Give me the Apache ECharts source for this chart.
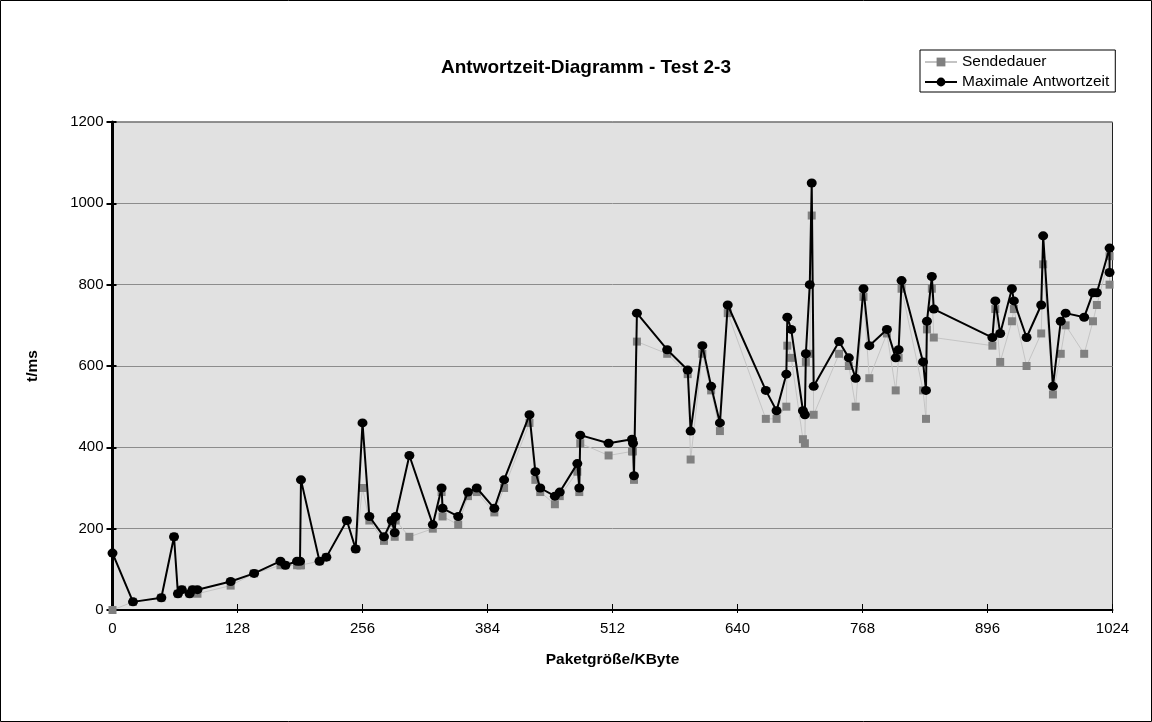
<!DOCTYPE html>
<html>
<head>
<meta charset="utf-8">
<script src="https://cdn.jsdelivr.net/npm/echarts@6/dist/echarts.min.js"></script>
<style>
html,body{margin:0;padding:0;background:#fff;}
#chart{width:1152px;height:722px;}
</style>
</head>
<body>
<div id="chart"></div>
<script>
const titleText = 'Antwortzeit-Diagramm - Test 2-3';
const seriesNames = ['Sendedauer', 'Maximale Antwortzeit'];
const xTicks = [0, 128, 256, 384, 512, 640, 768, 896, 1024];
const yTicks = [0, 200, 400, 600, 800, 1000, 1200];

const packetSize = [0, 21, 50, 63, 67, 71, 79, 82, 87, 121, 145, 172, 177, 189, 192, 193, 212, 219, 240, 249,
  256, 263, 278, 286, 289, 290, 304, 328, 337, 338, 354, 364, 373, 391, 401, 427, 433, 438, 453, 458,
  476, 478, 479, 508, 532, 533, 534, 537, 568, 589, 592, 604, 613, 622, 630, 669, 680, 690, 691, 695,
  707, 709, 710, 714, 716, 718, 744, 754, 761, 769, 775, 793, 802, 805, 808, 830, 833, 834, 839, 841,
  901, 904, 909, 921, 923, 936, 951, 953, 963, 971, 976, 995, 1004, 1008, 1021, 1021];

const sendedauer = [0, 20, 30, 180, 40, 50, 40, 50, 40, 60, 90, 110, 110, 110, 110, 110, 120, 130, 220, 150,
  300, 220, 170, 215, 180, 220, 180, 200, 290, 230, 210, 280, 290, 240, 300, 460, 320, 290, 260, 280,
  340, 290, 410, 380, 390, 390, 320, 660, 630, 580, 370, 630, 540, 440, 730, 470, 470, 500, 650, 620,
  420, 410, 610, 630, 970, 480, 630, 600, 500, 770, 570, 680, 540, 620, 790, 540, 470, 690, 790, 670,
  650, 740, 610, 710, 740, 600, 680, 850, 530, 630, 700, 630, 710, 750, 870, 800];

const maxAntwortzeit = [140, 20, 30, 180, 40, 50, 40, 50, 50, 70, 90, 120, 110, 120, 120, 320, 120, 130, 220, 150,
  460, 230, 180, 220, 190, 230, 380, 210, 300, 250, 230, 290, 300, 250, 320, 480, 340, 300, 280, 290,
  360, 300, 430, 410, 420, 410, 330, 730, 640, 590, 440, 650, 550, 460, 750, 540, 490, 580, 720, 690,
  490, 480, 630, 800, 1050, 550, 660, 620, 570, 790, 650, 690, 620, 640, 810, 610, 540, 710, 820, 740,
  670, 760, 680, 790, 760, 670, 750, 920, 550, 710, 730, 720, 780, 780, 890, 830];

const FONT = '"Liberation Sans", Arial, sans-serif';
const pairs = arr => packetSize.map((x, i) => [x, arr[i]]);
const plain = v => String(v);

const chart = echarts.init(document.getElementById('chart'), null, {renderer: 'canvas'});

const xBase = {
  type: 'value', min: xTicks[0], max: xTicks[xTicks.length - 1], interval: 128,
  position: 'bottom'
};
const yBase = {
  type: 'value', min: yTicks[0], max: yTicks[yTicks.length - 1], interval: 200,
  position: 'left'
};

chart.setOption({
  animation: false,
  backgroundColor: '#ffffff',
  textStyle: {fontFamily: FONT},
  title: {
    text: titleText, left: 581, top: 53, textAlign: 'center',
    textStyle: {fontFamily: FONT, fontSize: 19, fontWeight: 'bold', color: '#000'}
  },
  graphic: [{
    type: 'rect', shape: {x: 0.5, y: 0.5, width: 1151, height: 721},
    style: {fill: 'none', stroke: '#000', lineWidth: 1}, silent: true, z: 100
  }],
  legend: {
    orient: 'vertical', left: 920, top: 50,
    backgroundColor: '#fff', borderColor: '#000', borderWidth: 1,
    padding: [3, 6, 1, 4], itemGap: 2, itemWidth: 32, itemHeight: 11,
    textStyle: {fontFamily: FONT, fontSize: 15.5, color: '#000', lineHeight: 18},
    data: seriesNames
  },
  grid: {
    left: 112.5, right: 39.5, top: 122, bottom: 112,
    show: true, backgroundColor: '#e1e1e1', borderColor: '#222', borderWidth: 1
  },
  xAxis: [
    Object.assign({}, xBase, {
      name: 'Paketgröße/KByte', nameLocation: 'middle', nameGap: 42,
      nameTextStyle: {fontFamily: FONT, fontSize: 15.5, fontWeight: 'bold', color: '#000'},
      axisLine: {show: true, onZero: false, lineStyle: {color: '#000', width: 2}},
      axisTick: {show: true, inside: false, length: 3, lineStyle: {color: '#000', width: 1}},
      axisLabel: {fontFamily: FONT, fontSize: 15, color: '#000', margin: 11, formatter: plain},
      splitLine: {show: false}
    }),
    Object.assign({}, xBase, {
      axisLine: {show: false},
      axisTick: {show: true, inside: true, length: 6, lineStyle: {color: '#000', width: 1}},
      axisLabel: {show: false}, splitLine: {show: false}
    })
  ],
  yAxis: [
    Object.assign({}, yBase, {
      name: 't/ms', nameLocation: 'middle', nameGap: 72, nameRotate: 90,
      nameTextStyle: {fontFamily: FONT, fontSize: 15.5, fontWeight: 'bold', color: '#000'},
      axisLine: {show: true, onZero: false, lineStyle: {color: '#000', width: 3}},
      axisTick: {show: true, inside: false, length: 6, lineStyle: {color: '#000', width: 2}},
      axisLabel: {fontFamily: FONT, fontSize: 15, color: '#000', margin: 9, formatter: plain},
      splitLine: {show: true, lineStyle: {color: '#8c8c8c', width: 1}}
    }),
    Object.assign({}, yBase, {
      axisLine: {show: false},
      axisTick: {show: true, inside: true, length: 4, lineStyle: {color: '#000', width: 2}},
      axisLabel: {show: false}, splitLine: {show: false}
    })
  ],
  series: [
    {
      name: seriesNames[0], type: 'line', xAxisIndex: 0, yAxisIndex: 0,
      data: pairs(sendedauer),
      symbol: 'rect', symbolSize: 8, showAllSymbol: true,
      lineStyle: {color: '#c4c4c4', width: 1},
      itemStyle: {color: '#808080', borderWidth: 0},
      z: 2
    },
    {
      name: seriesNames[1], type: 'line', xAxisIndex: 0, yAxisIndex: 0,
      data: pairs(maxAntwortzeit),
      symbol: 'circle', symbolSize: [10, 9], showAllSymbol: true,
      lineStyle: {color: '#000', width: 2},
      itemStyle: {color: '#000', borderWidth: 0},
      z: 3
    }
  ]
});
</script>
</body>
</html>
